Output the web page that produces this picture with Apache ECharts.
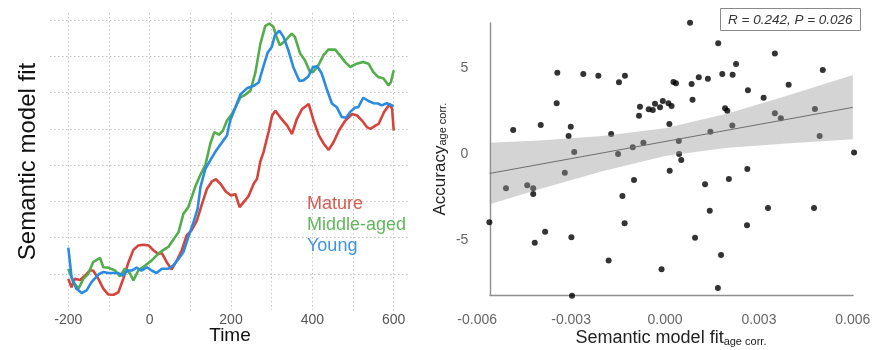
<!DOCTYPE html>
<html>
<head>
<meta charset="utf-8">
<script src="https://cdn.jsdelivr.net/npm/echarts@6/dist/echarts.min.js"></script>
<style>
html, body { margin: 0; padding: 0; background: #fff; }
#chart { width: 883px; height: 350px; }
</style>
</head>
<body>
<div id="chart"></div>
<script>
// left panel: semantic model fit over time (ms), one line per age group
const timeTicks = [-200, 0, 200, 400, 600];
const timeGrid = [-200, -100, 0, 100, 200, 300, 400, 500, 600];

const mature = [
  [-200, -0.14], [-192, -0.37], [-184, -0.14], [-171, -0.17], [-159, -0.05], [-147, 0.09], [-139, 0.09],
  [-126, -0.14], [-114, -0.41], [-102, -0.57], [-89, -0.58], [-77, -0.51], [-65, -0.14], [-52, 0.32],
  [-40, 0.66], [-28, 0.78], [-15, 0.80], [-2, 0.78], [9, 0.65], [21, 0.55], [30, 0.57], [42, 0.32],
  [54, 0.12], [67, 0.37], [79, 0.65], [91, 1.06], [103, 1.20], [116, 1.47], [128, 1.90], [141, 2.35],
  [153, 2.55], [163, 2.61], [175, 2.47], [187, 2.27], [200, 2.16], [211, 2.20], [221, 1.84], [231, 1.98],
  [243, 2.14], [256, 2.49], [264, 2.62], [272, 3.10], [280, 3.36], [293, 3.95], [301, 4.37], [309, 4.50],
  [321, 4.32], [338, 4.09], [350, 3.86], [362, 4.28], [375, 4.55], [391, 4.69], [403, 4.23], [416, 3.82],
  [428, 3.59], [440, 3.42], [452, 3.63], [465, 3.95], [481, 4.23], [498, 4.41], [510, 4.37], [522, 4.23],
  [534, 4.05], [543, 4.00], [555, 4.09], [563, 4.14], [576, 4.46], [590, 4.69], [596, 4.55], [600, 3.95]
];

const middleAged = [
  [-200, 0.14], [-188, -0.23], [-175, -0.41], [-163, -0.14], [-151, 0.00], [-139, 0.32], [-122, 0.44],
  [-114, 0.18], [-102, 0.17], [-85, 0.09], [-73, -0.07], [-61, 0.14], [-48, 0.00], [-40, -0.18],
  [-28, 0.09], [-11, 0.23], [5, 0.37], [21, 0.55], [34, 0.66], [46, 0.74], [58, 0.94], [71, 1.15],
  [83, 1.66], [95, 1.84], [112, 2.40], [125, 2.74], [137, 3.00], [149, 3.59], [159, 3.91], [170, 3.84],
  [180, 3.95], [190, 4.23], [202, 4.41], [215, 4.69], [223, 4.87], [235, 4.94], [248, 5.06], [260, 5.56],
  [272, 6.34], [284, 6.84], [294, 6.91], [304, 6.82], [312, 6.54], [320, 6.31], [333, 6.43], [349, 6.63],
  [357, 6.54], [370, 6.08], [382, 5.89], [394, 5.57], [402, 5.57], [415, 5.76], [427, 6.03], [439, 6.19],
  [456, 6.19], [468, 6.03], [480, 5.85], [493, 5.71], [509, 5.80], [525, 5.85], [538, 5.80], [550, 5.57],
  [562, 5.43], [575, 5.39], [587, 5.20], [593, 5.29], [600, 5.62]
];

const young = [
  [-200, 0.72], [-192, -0.09], [-180, -0.41], [-167, -0.53], [-155, -0.46], [-143, -0.23], [-126, -0.02],
  [-114, 0.05], [-102, 0.02], [-77, 0.02], [-65, -0.05], [-56, 0.09], [-44, 0.09], [-32, 0.17],
  [-20, 0.09], [-7, 0.18], [5, 0.09], [17, 0.02], [30, 0.14], [46, 0.14], [58, 0.23], [71, 0.41],
  [83, 0.60], [95, 1.01], [108, 1.43], [118, 1.80], [125, 2.40], [137, 2.90], [149, 3.13], [161, 3.36],
  [178, 3.63], [190, 3.82], [198, 4.23], [211, 4.60], [223, 4.95], [239, 5.12], [256, 5.19], [268, 5.28],
  [280, 5.74], [290, 6.10], [300, 6.26], [308, 6.59], [319, 6.71], [329, 6.54], [341, 6.17], [353, 5.71],
  [368, 5.32], [378, 5.34], [390, 5.45], [402, 5.71], [412, 5.73], [423, 5.53], [435, 5.11], [448, 4.70],
  [460, 4.60], [472, 4.33], [483, 4.31], [493, 4.47], [505, 4.59], [513, 4.60], [525, 4.86], [538, 4.77],
  [550, 4.71], [562, 4.70], [570, 4.65], [583, 4.71], [600, 4.63]
];

// right panel: accuracy vs semantic model fit (both age corrected)
const fitTicks = [-0.006, -0.003, 0, 0.003, 0.006];
const accTicks = [-5, 0, 5];

const semFit = [
  -0.00485, -0.00397, -0.00344, -0.00346, -0.00301, -0.00308, -0.00290, -0.00320, -0.00261, -0.00213,
  -0.00147, -0.00128, -0.00172, -0.00150, -0.00103, -0.00080, -0.00083, -0.00052, -0.00069, 0.00080,
  0.00170, 0.00351, 0.00504, 0.00227, 0.00183, 0.00216, 0.00108, 0.00137, 0.00027, 0.00035,
  0.00085, 0.00395, 0.00265, 0.00315, 0.00088, -0.00007, -0.00032, 0.00011, -0.00039, -0.00016,
  0.00021, 0.00192, 0.00199, 0.00351, 0.00370, 0.00479, 0.00014, 0.00215, 0.00145, 0.00494,
  0.00044, 0.00045, 0.00052, 0.00604, 0.00015, 0.00263, -0.00508, -0.00440, -0.00421, -0.00421,
  -0.00561, -0.00383, -0.00416, -0.00299, -0.00180, -0.00297, -0.00136, -0.00129, -0.00099, 0.00128,
  0.00204, 0.00143, 0.00329, 0.00476, 0.00262, 0.00096, 0.00179, -0.00011, 0.00169
];
const accuracy = [
  1.40, 1.69, 4.73, 2.95, 1.59, 1.05, 0.12, -1.09, 4.65, 4.55,
  4.17, 4.55, 1.16, 0.00, 0.39, 2.75, 2.23, 2.60, 0.66, 7.63,
  6.44, 5.85, 4.88, 5.23, 4.65, 4.61, 4.46, 4.38, 4.19, 4.11,
  4.07, 4.03, 3.70, 3.27, 3.16, 3.08, 2.92, 2.95, 2.56, 2.72,
  2.79, 2.66, 2.52, 2.37, 2.08, 2.62, 1.74, 1.65, 1.30, 1.05,
  0.76, 0.00, -0.35, 0.08, -0.97, -0.87, -1.99, -1.82, -1.99, -2.33,
  -3.97, -4.52, -5.16, -4.84, -6.20, -8.24, -2.44, -4.03, -1.51, -1.76,
  -1.45, -3.30, -3.14, -3.14, -4.15, -4.87, -5.87, -6.70, -7.79
];

// regression line and its confidence band
const lineX = [-0.0056, 0.0060];
const lineY = [-1.13, 2.71];
const bandX = [-0.0056, -0.004, -0.002, 0, 0.002, 0.004, 0.0060];
const bandLower = [-2.92, -2.04, -1.00, -0.12, 0.36, 0.62, 0.85];
const bandUpper = [0.66, 0.78, 1.05, 1.50, 2.36, 3.44, 4.59];

const FONT = '"Liberation Sans", Arial, sans-serif';
const RED = '#d6433a', GREEN = '#53ad4b', BLUE = '#2a8be3';
const dotted = { color: '#c4c4c4', width: 1, type: [1.5, 2.5] };

const zip = (xs, ys) => xs.map((x, i) => [x, ys[i]]);

const chart = echarts.init(document.getElementById('chart'), null, { renderer: 'canvas' });
chart.setOption({
  backgroundColor: '#fff',
  animation: false,
  textStyle: { fontFamily: FONT },
  title: [{
    text: 'R = 0.242, P = 0.026',
    left: 720, top: 8,
    padding: [5, 8, 4, 8],
    borderColor: '#8a8a8a', borderWidth: 1,
    textStyle: { fontFamily: FONT, fontSize: 13.5, fontStyle: 'italic', fontWeight: 'normal', color: '#333' }
  }],
  legend: {
    left: 297, top: 190, orient: 'vertical',
    icon: 'none', itemWidth: 0, itemHeight: 14, itemGap: 3,
    selectedMode: false,
    textStyle: { fontFamily: FONT, fontSize: 18 },
    data: [
      { name: 'Mature', textStyle: { color: '#d95a50' } },
      { name: 'Middle-aged', textStyle: { color: '#62b65e' } },
      { name: 'Young', textStyle: { color: '#3d93e6' } }
    ]
  },
  grid: [
    { left: 50, right: 473, top: 13, bottom: 40, outerBoundsMode: 'none' },
    { left: 458.4, right: 11.4, top: 6.1, bottom: 37.8, outerBoundsMode: 'none' },
    { left: 490, right: 30, top: 23, bottom: 55, outerBoundsMode: 'none' }
  ],
  xAxis: [
    {
      gridIndex: 0, type: 'value', min: -245, max: 640,
      axisLine: { show: false },
      axisTick: { show: false, customValues: timeGrid },
      axisLabel: { customValues: timeTicks, color: '#555', fontSize: 14, margin: 3 },
      splitLine: { show: true, lineStyle: dotted },
      name: 'Time', nameLocation: 'middle', nameGap: 16, nameMoveOverlap: false,
      nameTextStyle: { fontSize: 19, color: '#111' }
    },
    {
      gridIndex: 1, type: 'value', min: -0.0066, max: 0.0066,
      axisLine: { show: false }, axisTick: { show: false }, splitLine: { show: false },
      axisLabel: {
        customValues: fitTicks, color: '#666', fontSize: 14, margin: 1,
        formatter: v => v.toFixed(3)
      },
      name: '{a|Semantic model fit}{s|age corr.}', nameLocation: 'middle', nameGap: 15, nameMoveOverlap: false,
      nameTextStyle: {
        padding: [0, 0, 0, 12],
        rich: {
          a: { fontFamily: FONT, fontSize: 18, color: '#222', lineHeight: 20, verticalAlign: 'bottom' },
          s: { fontFamily: FONT, fontSize: 11, color: '#222', lineHeight: 8, verticalAlign: 'bottom' }
        }
      }
    },
    {
      gridIndex: 2, type: 'value', min: 0, max: 1, offset: 15,
      axisLine: { show: true, lineStyle: { color: '#8f8f8f', width: 1.4 } },
      axisTick: { show: false }, axisLabel: { show: false }, splitLine: { show: false }
    }
  ],
  yAxis: [
    {
      gridIndex: 0, type: 'value', min: -1, max: 7.2, interval: 1,
      axisLine: { show: false }, axisTick: { show: false }, axisLabel: { show: false },
      splitLine: { show: true, showMinLine: false, showMaxLine: false, lineStyle: dotted },
      name: 'Semantic model fit', nameLocation: 'middle', nameGap: 10,
      nameTextStyle: { fontSize: 24, color: '#111' }
    },
    {
      gridIndex: 1, type: 'value', min: -9.2, max: 8.6, offset: -12,
      axisLine: { show: false }, axisTick: { show: false }, splitLine: { show: false },
      axisLabel: { customValues: accTicks, color: '#666', fontSize: 14, margin: 2 },
      name: '{a|Accuracy}{s|age corr.}', nameLocation: 'middle', nameGap: 22,
      nameTextStyle: {
        rich: {
          a: { fontFamily: FONT, fontSize: 17, color: '#222', lineHeight: 20, verticalAlign: 'bottom' },
          s: { fontFamily: FONT, fontSize: 11, color: '#222', lineHeight: 8, verticalAlign: 'bottom' }
        }
      }
    },
    {
      gridIndex: 2, type: 'value', min: 0, max: 1, offset: 19,
      axisLine: { show: true, lineStyle: { color: '#8f8f8f', width: 1.4 } },
      axisTick: { show: false }, axisLabel: { show: false }, splitLine: { show: false }
    }
  ],
  series: [
    {
      name: 'Mature', type: 'line', xAxisIndex: 0, yAxisIndex: 0, data: mature,
      showSymbol: false, lineStyle: { color: RED, width: 2.6 }, itemStyle: { color: RED }, z: 3
    },
    {
      name: 'Middle-aged', type: 'line', xAxisIndex: 0, yAxisIndex: 0, data: middleAged,
      showSymbol: false, lineStyle: { color: GREEN, width: 2.6 }, itemStyle: { color: GREEN }, z: 4
    },
    {
      name: 'Young', type: 'line', xAxisIndex: 0, yAxisIndex: 0, data: young,
      showSymbol: false, lineStyle: { color: BLUE, width: 2.6 }, itemStyle: { color: BLUE }, z: 5
    },
    {
      type: 'scatter', xAxisIndex: 1, yAxisIndex: 1, data: zip(semFit, accuracy),
      symbolSize: 6, itemStyle: { color: '#000' }, z: 2
    },
    {
      // confidence band: polygon through the upper edge, back along the lower edge
      type: 'custom', xAxisIndex: 1, yAxisIndex: 1, data: zip(bandX, bandLower), z: 3,
      renderItem: function (params, api) {
        if (params.dataIndex !== 0) return null;
        const top = bandX.map((x, i) => api.coord([x, bandUpper[i]]));
        const bottom = bandX.map((x, i) => api.coord([x, bandLower[i]])).reverse();
        return {
          type: 'polygon',
          shape: { points: top.concat(bottom) },
          style: { fill: '#999', opacity: 0.42 }
        };
      }
    },
    {
      type: 'line', xAxisIndex: 1, yAxisIndex: 1, data: zip(lineX, lineY),
      showSymbol: false, lineStyle: { color: '#6e6e6e', width: 1 }, z: 4
    }
  ]
});
</script>
</body>
</html>
